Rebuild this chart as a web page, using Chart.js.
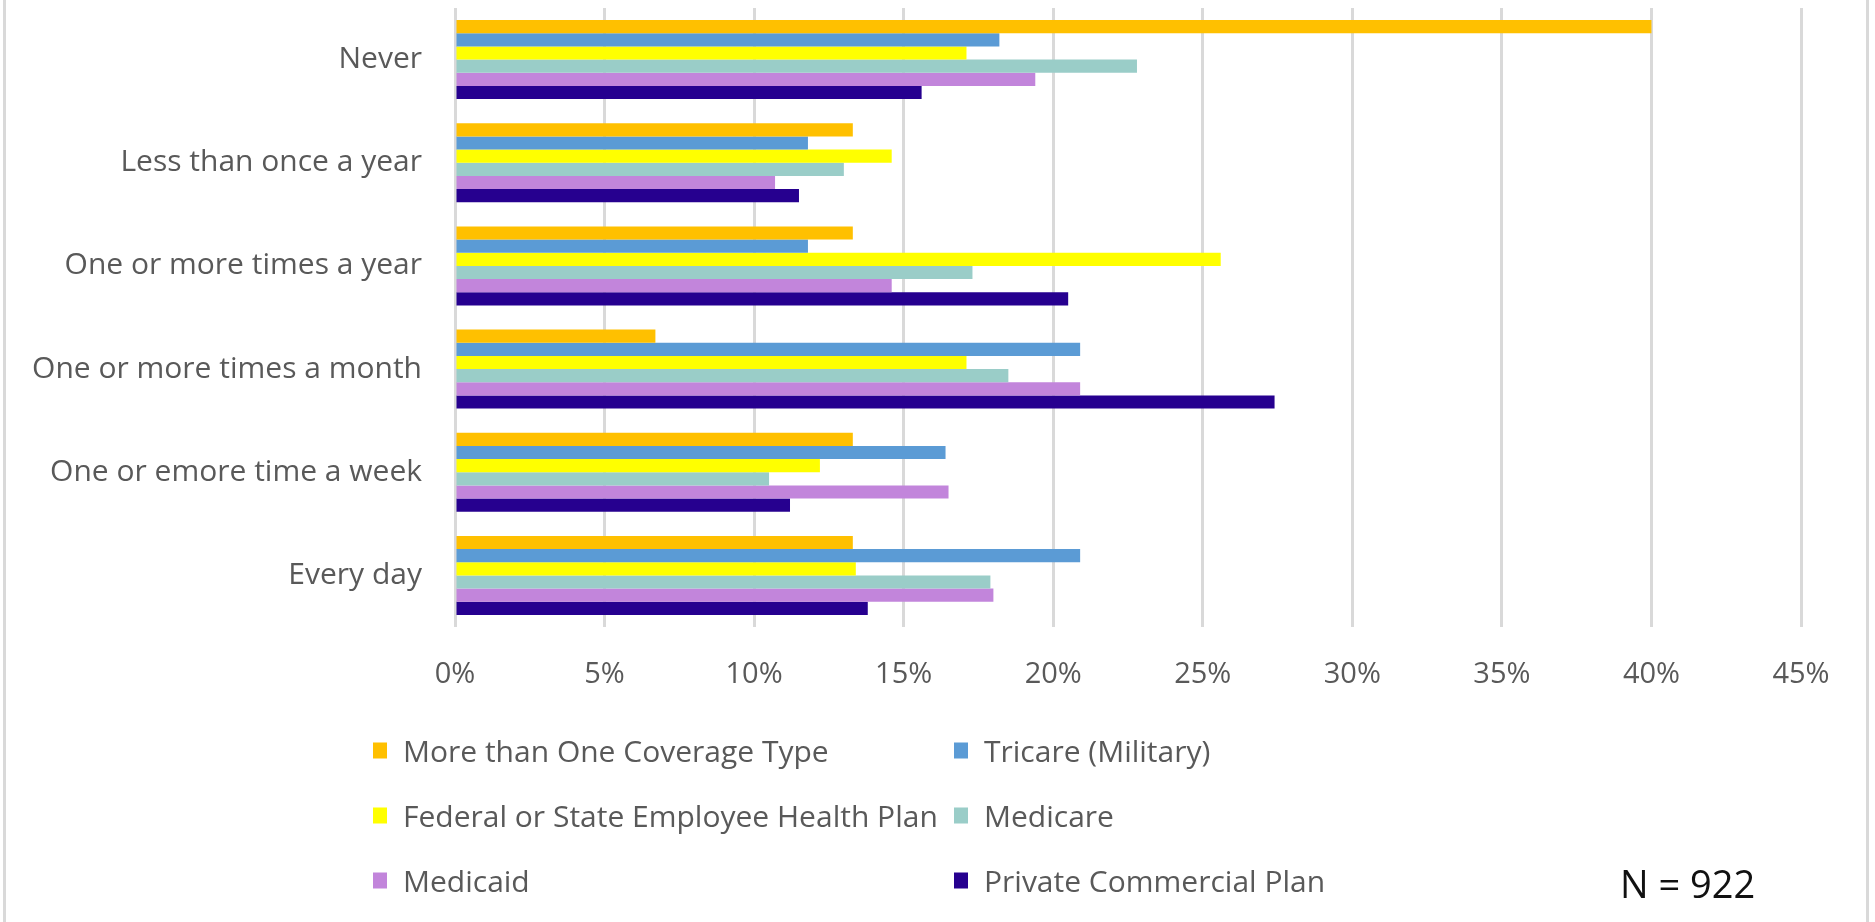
<!DOCTYPE html>
<html>
<head>
<meta charset="utf-8">
<script src="https://cdn.jsdelivr.net/npm/chart.js@4/dist/chart.umd.min.js"></script>
<style>
  html, body { margin: 0; padding: 0; background: #fff; }
  #wrap { position: relative; width: 1875px; height: 922px; overflow: hidden; }
  #c { position: absolute; left: 0; top: 0; }
  .frame { position: absolute; top: 0; width: 3px; height: 922px; background: #d9d9d9; }
  #legend { position: absolute; left: 0; top: 0; font-family: 'Open Sans', sans-serif; font-size: 30px; color: #595959; }
  .lg-item { position: absolute; display: flex; align-items: center; white-space: nowrap; transform: translateY(-50%); }
  .lg-box { width: 14px; height: 16px; margin-right: 16px; }
  #ntext { position: absolute; left: 1620px; top: 862px; font-family: 'Open Sans', sans-serif; font-size: 38px; color: #111; line-height: 42px; }
</style>
</head>
<body>
<div id="wrap">
  <canvas id="c" width="1875" height="922"></canvas>
  <div class="frame" style="left:3px"></div>
  <div class="frame" style="left:1866px"></div>
  <div id="legend"></div>
  <div id="ntext">N = 922</div>
</div>
<script>
// ─── Data ───────────────────────────────────────────
const categories = [
  'Never',
  'Less than once a year',
  'One or more times a year',
  'One or more times a month',
  'One or emore time a week',
  'Every day',
];
const seriesNames = [
  'More than One Coverage Type',
  'Tricare (Military)',
  'Federal or State Employee Health Plan',
  'Medicare',
  'Medicaid',
  'Private Commercial Plan',
];
const seriesColors = ['#FFC000', '#5B9BD5', '#FFFF00', '#9ACDC8', '#C285DB', '#26008F'];

const moreThanOne = [40.0, 13.3, 13.3,  6.7, 13.3, 13.3];
const tricare     = [18.2, 11.8, 11.8, 20.9, 16.4, 20.9];
const fedState    = [17.1, 14.6, 25.6, 17.1, 12.2, 13.4];
const medicare    = [22.8, 13.0, 17.3, 18.5, 10.5, 17.9];
const medicaid    = [19.4, 10.7, 14.6, 20.9, 16.5, 18.0];
const privatePlan = [15.6, 11.5, 20.5, 27.4, 11.2, 13.8];

const seriesValues = [moreThanOne, tricare, fedState, medicare, medicaid, privatePlan];
const xTicks = [0, 5, 10, 15, 20, 25, 30, 35, 40, 45];
// ────────────────────────────────────────────────────

const datasets = seriesNames.map((name, i) => ({
  label: name,
  data: seriesValues[i],
  backgroundColor: seriesColors[i],
  borderWidth: 0,
  categoryPercentage: 0.765,
  barPercentage: 1.0,
}));

const chart = new Chart(document.getElementById('c'), {
  type: 'bar',
  data: { labels: categories, datasets },
  options: {
    indexAxis: 'y',
    responsive: false,
    animation: false,
    layout: { padding: { top: 8, right: 74, bottom: 235, left: 0 } },
    plugins: { legend: { display: false }, tooltip: { enabled: false } },
    scales: {
      x: {
        min: 0, max: 45,
        afterBuildTicks: s => { s.ticks = xTicks.map(v => ({ value: v })); },
        afterFit: s => { s.height = 60; },
        ticks: {
          padding: 30,
          color: '#595959',
          font: { size: 29, family: 'Open Sans' },
          callback: v => v + '%',
        },
        grid: { color: '#d9d9d9', lineWidth: 3, drawTicks: false },
        border: { display: false },
      },
      y: {
        // fixed width, and no extra vertical padding from the labels
        afterFit: s => { s.width = 455; s.paddingTop = 0; s.paddingBottom = 0; },
        ticks: {
          padding: 33,
          color: '#595959',
          font: { size: 30, family: 'Open Sans' },
        },
        grid: { display: false, drawTicks: false },
        border: { display: false },
      },
    },
  },
});

// HTML legend, 2 columns x 3 rows
const legendEl = document.getElementById('legend');
const colX = [373, 954];
const rowY = [750, 815, 880];
chart.data.datasets.forEach((ds, i) => {
  const item = document.createElement('div');
  item.className = 'lg-item';
  item.style.left = colX[i % 2] + 'px';
  item.style.top = rowY[Math.floor(i / 2)] + 'px';
  item.innerHTML = `<span class="lg-box" style="background:${ds.backgroundColor}"></span><span>${ds.label}</span>`;
  legendEl.appendChild(item);
});
</script>
</body>
</html>
